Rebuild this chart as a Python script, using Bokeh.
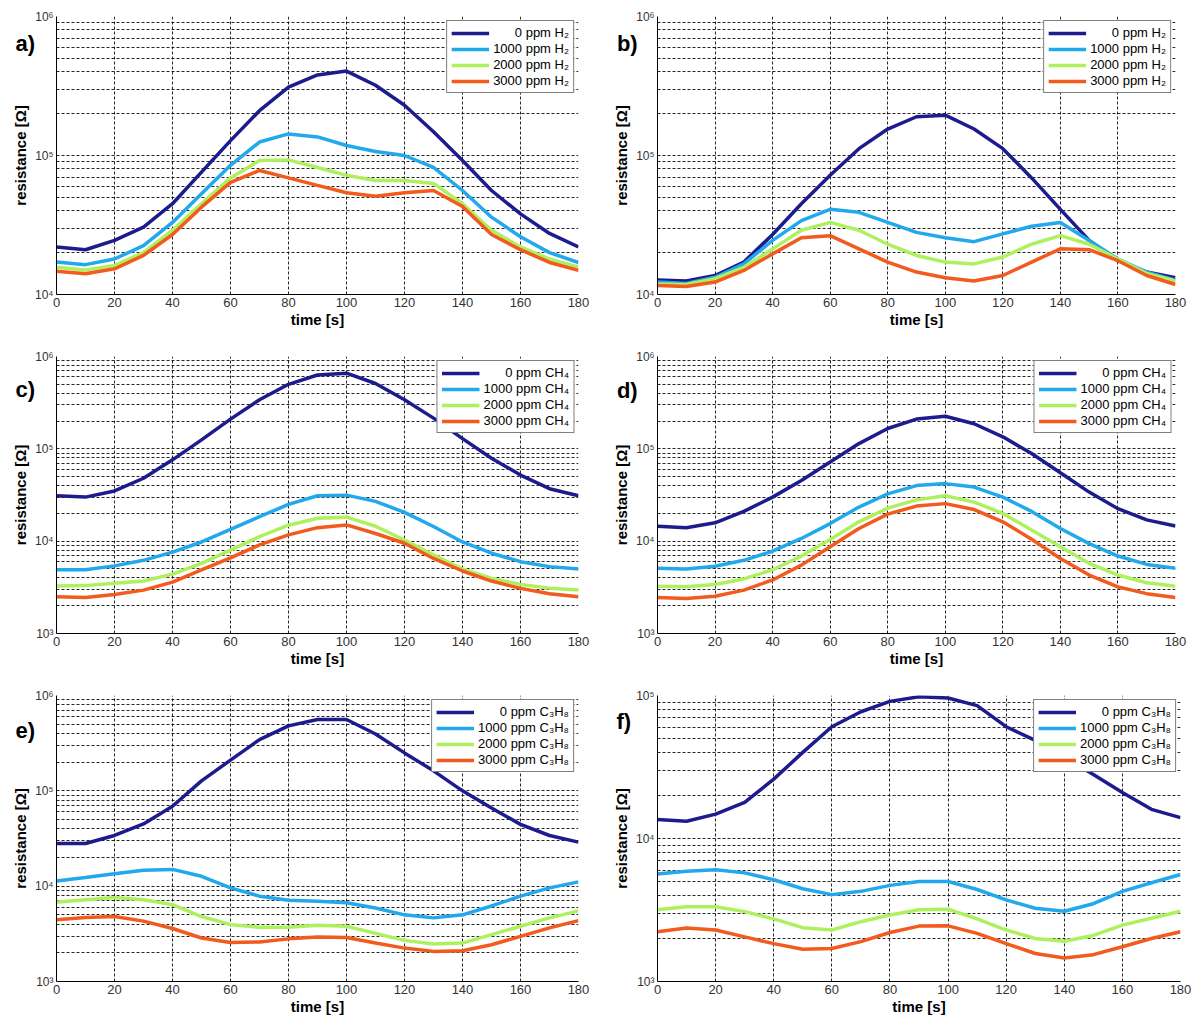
from bokeh.plotting import figure
from bokeh.layouts import column, row
from bokeh.models import (FixedTicker, CustomJSTickFormatter, Legend, LegendItem,
                          Label, Range1d)
from bokeh.embed import file_html
from bokeh.resources import INLINE

# ---------------- data ----------------
TIME = [0, 10, 20, 30, 40, 50, 60, 70, 80, 90, 100, 110, 120, 130, 140, 150, 160, 170, 180]
CONC = ["0", "1000", "2000", "3000"]
GAS = ["H₂", "H₂", "CH₄", "CH₄", "C₃H₈", "C₃H₈"]
TAGS = ["a)", "b)", "c)", "d)", "e)", "f)"]
X_TICKS = [0, 20, 40, 60, 80, 100, 120, 140, 160, 180]
Y_EXP = [(4, 6), (4, 6), (3, 6), (3, 6), (3, 6), (3, 5)]

a_0 = [2.2e4, 2.1e4, 2.45e4, 3.05e4, 4.5e4, 7.6e4, 1.28e5, 2.1e5, 3.1e5, 3.8e5, 4.05e5, 3.2e5, 2.3e5, 1.48e5, 9.2e4, 5.6e4, 3.8e4, 2.75e4, 2.2e4]
a_1000 = [1.71e4, 1.64e4, 1.8e4, 2.25e4, 3.3e4, 5.3e4, 8.5e4, 1.25e5, 1.43e5, 1.36e5, 1.18e5, 1.07e5, 1.0e5, 8.2e4, 5.6e4, 3.6e4, 2.6e4, 2.0e4, 1.7e4]
a_2000 = [1.57e4, 1.5e4, 1.62e4, 2.0e4, 2.9e4, 4.5e4, 6.9e4, 9.2e4, 9.3e4, 8.2e4, 7.2e4, 6.6e4, 6.6e4, 6.3e4, 4.5e4, 2.9e4, 2.2e4, 1.8e4, 1.57e4]
a_3000 = [1.47e4, 1.41e4, 1.53e4, 1.91e4, 2.7e4, 4.25e4, 6.4e4, 7.8e4, 6.9e4, 6.1e4, 5.4e4, 5.1e4, 5.4e4, 5.6e4, 4.3e4, 2.7e4, 2.1e4, 1.7e4, 1.49e4]

b_0 = [1.27e4, 1.25e4, 1.37e4, 1.71e4, 2.7e4, 4.5e4, 7.2e4, 1.12e5, 1.55e5, 1.9e5, 1.95e5, 1.55e5, 1.12e5, 6.9e4, 4.1e4, 2.45e4, 1.75e4, 1.45e4, 1.32e4]
b_1000 = [1.23e4, 1.2e4, 1.33e4, 1.66e4, 2.45e4, 3.4e4, 4.1e4, 3.9e4, 3.3e4, 2.8e4, 2.56e4, 2.4e4, 2.73e4, 3.1e4, 3.3e4, 2.45e4, 1.8e4, 1.45e4, 1.27e4]
b_2000 = [1.19e4, 1.18e4, 1.3e4, 1.57e4, 2.13e4, 2.9e4, 3.3e4, 2.9e4, 2.3e4, 1.91e4, 1.71e4, 1.66e4, 1.86e4, 2.3e4, 2.65e4, 2.3e4, 1.8e4, 1.42e4, 1.25e4]
b_3000 = [1.16e4, 1.14e4, 1.23e4, 1.49e4, 1.96e4, 2.56e4, 2.65e4, 2.13e4, 1.71e4, 1.45e4, 1.32e4, 1.25e4, 1.37e4, 1.71e4, 2.13e4, 2.1e4, 1.75e4, 1.37e4, 1.18e4]

c_0 = [3.1e4, 3.0e4, 3.5e4, 4.8e4, 7.6e4, 1.25e5, 2.1e5, 3.4e5, 5.0e5, 6.3e5, 6.6e5, 5.1e5, 3.4e5, 2.15e5, 1.29e5, 7.9e4, 5.2e4, 3.7e4, 3.1e4]
c_1000 = [4.9e3, 4.9e3, 5.4e3, 6.2e3, 7.6e3, 9.8e3, 1.34e4, 1.84e4, 2.5e4, 3.1e4, 3.15e4, 2.7e4, 2.05e4, 1.44e4, 9.8e3, 7.4e3, 6.0e3, 5.3e3, 5.0e3]
c_2000 = [3.26e3, 3.3e3, 3.5e3, 3.7e3, 4.4e3, 5.75e3, 8.0e3, 1.12e4, 1.49e4, 1.77e4, 1.82e4, 1.45e4, 1.03e4, 7.1e3, 5.0e3, 3.95e3, 3.4e3, 3.1e3, 2.95e3]
c_3000 = [2.5e3, 2.45e3, 2.65e3, 2.95e3, 3.6e3, 4.9e3, 6.6e3, 9.1e3, 1.17e4, 1.4e4, 1.5e4, 1.21e4, 9.5e3, 6.5e3, 4.75e3, 3.7e3, 3.08e3, 2.7e3, 2.5e3]

d_0 = [1.45e4, 1.4e4, 1.58e4, 2.1e4, 3.0e4, 4.55e4, 7.2e4, 1.14e5, 1.66e5, 2.1e5, 2.25e5, 1.87e5, 1.35e5, 8.9e4, 5.5e4, 3.4e4, 2.25e4, 1.7e4, 1.46e4]
d_1000 = [5.1e3, 5.0e3, 5.35e3, 6.2e3, 7.8e3, 1.07e4, 1.55e4, 2.34e4, 3.25e4, 4.0e4, 4.2e4, 3.85e4, 3.0e4, 2.1e4, 1.37e4, 9.4e3, 6.9e3, 5.6e3, 5.1e3]
d_2000 = [3.25e3, 3.2e3, 3.4e3, 3.9e3, 4.9e3, 6.9e3, 1.04e4, 1.62e4, 2.28e4, 2.8e4, 3.1e4, 2.65e4, 2.0e4, 1.32e4, 8.7e3, 5.75e3, 4.3e3, 3.55e3, 3.25e3]
d_3000 = [2.45e3, 2.4e3, 2.53e3, 2.95e3, 3.8e3, 5.5e3, 8.7e3, 1.37e4, 1.96e4, 2.4e4, 2.55e4, 2.2e4, 1.62e4, 1.05e4, 6.5e3, 4.3e3, 3.2e3, 2.7e3, 2.45e3]

e_0 = [2.8e4, 2.8e4, 3.4e4, 4.5e4, 6.9e4, 1.27e5, 2.1e5, 3.45e5, 4.8e5, 5.6e5, 5.6e5, 3.95e5, 2.5e5, 1.62e5, 1.0e5, 6.6e4, 4.45e4, 3.4e4, 2.9e4]
e_1000 = [1.13e4, 1.23e4, 1.35e4, 1.47e4, 1.5e4, 1.27e4, 9.6e3, 7.85e3, 7.1e3, 6.95e3, 6.7e3, 5.9e3, 5.0e3, 4.65e3, 5.0e3, 6.2e3, 7.85e3, 9.6e3, 1.11e4]
e_2000 = [6.8e3, 7.2e3, 7.6e3, 7.2e3, 6.4e3, 4.8e3, 3.95e3, 3.7e3, 3.7e3, 3.9e3, 3.8e3, 3.2e3, 2.7e3, 2.47e3, 2.53e3, 3.1e3, 3.8e3, 4.65e3, 5.5e3]
e_3000 = [4.45e3, 4.7e3, 4.8e3, 4.3e3, 3.6e3, 2.86e3, 2.57e3, 2.6e3, 2.8e3, 2.93e3, 2.9e3, 2.53e3, 2.24e3, 2.07e3, 2.1e3, 2.43e3, 2.97e3, 3.65e3, 4.35e3]

f_0 = [1.36e4, 1.32e4, 1.48e4, 1.79e4, 2.6e4, 4.0e4, 6.05e4, 7.7e4, 9.1e4, 9.8e4, 9.6e4, 8.5e4, 6.05e4, 4.85e4, 3.7e4, 2.8e4, 2.1e4, 1.6e4, 1.4e4]
f_1000 = [5.65e3, 5.9e3, 6.05e3, 5.75e3, 5.15e3, 4.45e3, 4.05e3, 4.27e3, 4.7e3, 5.0e3, 5.0e3, 4.4e3, 3.72e3, 3.25e3, 3.1e3, 3.5e3, 4.27e3, 4.9e3, 5.6e3]
f_2000 = [3.17e3, 3.33e3, 3.33e3, 3.08e3, 2.74e3, 2.38e3, 2.29e3, 2.62e3, 2.92e3, 3.17e3, 3.2e3, 2.74e3, 2.29e3, 2.0e3, 1.91e3, 2.1e3, 2.48e3, 2.77e3, 3.1e3]
f_3000 = [2.23e3, 2.37e3, 2.29e3, 2.05e3, 1.84e3, 1.68e3, 1.7e3, 1.9e3, 2.2e3, 2.44e3, 2.45e3, 2.17e3, 1.84e3, 1.57e3, 1.46e3, 1.54e3, 1.75e3, 2.0e3, 2.23e3]

PANELS = [
    [a_0, a_1000, a_2000, a_3000],
    [b_0, b_1000, b_2000, b_3000],
    [c_0, c_1000, c_2000, c_3000],
    [d_0, d_1000, d_2000, d_3000],
    [e_0, e_1000, e_2000, e_3000],
    [f_0, f_1000, f_2000, f_3000],
]

# ---------------- styling ----------------
COLORS = ["#1c1c8e", "#22a8ec", "#aef05e", "#f25a1e"]
FONT = "Liberation Sans"
# (width, height, border_left, border_right, border_top, border_bottom, tag_y_from_frame_top)
GEOM = [
    (598, 342, 56, 19, 16, 48, 27),
    (598, 342, 59, 16, 16, 48, 27),
    (598, 339, 56, 19, 14, 48, 33),
    (598, 339, 59, 16, 14, 48, 34),
    (598, 339, 56, 19, 14, 39, 35),
    (598, 339, 59, 16, 14, 39, 26),
]

SUP_JS = """
const sup = {"0":"\u2070","1":"\u00b9","2":"\u00b2","3":"\u00b3","4":"\u2074",
             "5":"\u2075","6":"\u2076","7":"\u2077","8":"\u2078","9":"\u2079"};
const e = Math.round(Math.log10(tick));
return "10" + String(e).split("").map(c => sup[c]).join("");
"""


def make_panel(i):
    w, h, bl, br, bt, bb, tag_y = GEOM[i]
    lo, hi = Y_EXP[i]
    p = figure(width=w, height=h, y_axis_type="log",
               x_range=Range1d(0, 180), y_range=Range1d(10 ** lo, 10 ** hi),
               output_backend="svg", toolbar_location=None,
               min_border_left=bl, min_border_right=br,
               min_border_top=bt, min_border_bottom=bb)
    p.outline_line_color = None
    p.background_fill_color = "white"
    p.border_fill_color = "white"

    major = [10 ** e for e in range(lo, hi + 1)]
    minor = [k * 10 ** e for e in range(lo, hi) for k in range(2, 10)]
    p.yaxis.ticker = FixedTicker(ticks=major, minor_ticks=minor)
    p.yaxis.formatter = CustomJSTickFormatter(code=SUP_JS)
    p.xaxis.ticker = FixedTicker(ticks=X_TICKS)

    for ax in (p.xaxis, p.yaxis):
        ax.axis_line_color = "black"
        ax.axis_line_width = 1
        ax.major_tick_in = 0
        ax.major_tick_out = 0
        ax.minor_tick_in = 0
        ax.minor_tick_out = 0
        ax.major_label_text_font = FONT
        ax.major_label_text_color = "#333333"
        ax.axis_label_text_font = FONT
        ax.axis_label_text_font_size = "15px"
        ax.axis_label_text_font_style = "bold"
        ax.axis_label_text_color = "black"
    p.xaxis.major_label_text_font_size = "13px"
    p.yaxis.major_label_text_font_size = "12px"
    p.xaxis.axis_label = "time [s]"
    p.yaxis.axis_label = "resistance [Ω]"
    p.xaxis.major_label_standoff = 3
    p.xaxis.axis_label_standoff = 1
    p.yaxis.major_label_standoff = 3
    p.yaxis.axis_label_standoff = 3

    for g in (p.xgrid, p.ygrid):
        g.grid_line_color = "black"
        g.grid_line_dash = "3 2"
        g.grid_line_width = 1
        g.grid_line_alpha = 0.85
    p.ygrid.minor_grid_line_color = "black"
    p.ygrid.minor_grid_line_dash = "3 2"
    p.ygrid.minor_grid_line_alpha = 0.85

    items = []
    for vals, conc, col in zip(PANELS[i], CONC, COLORS):
        r = p.line(TIME, vals, line_color=col, line_width=3.5)
        pad = "\u2007" * (4 - len(conc))
        items.append(LegendItem(label=pad + conc + " ppm " + GAS[i], renderers=[r]))

    leg = Legend(items=items, location="top_right")
    leg.border_line_color = "black"
    leg.border_line_width = 1
    leg.background_fill_color = "white"
    leg.background_fill_alpha = 1
    leg.label_text_font = FONT
    leg.label_text_font_size = "13px"
    leg.label_text_color = "black"
    leg.glyph_width = 38
    leg.glyph_height = 14
    leg.label_height = 14
    leg.label_standoff = 4
    leg.spacing = 1
    leg.padding = 4
    leg.margin = 4
    p.add_layout(leg)

    # panel tag, drawn left of the frame (position derived from frame geometry);
    # hosted in the (otherwise empty) right side panel so it is not clipped
    frame_w = w - bl - br
    frame_h = h - bt - bb
    tag_x = -41 * 180 / frame_w
    tag_yv = 10 ** (hi - tag_y * (hi - lo) / frame_h)
    p.add_layout(Label(x=tag_x, y=tag_yv,
                       text=TAGS[i], text_font=FONT, text_font_size="22px",
                       text_font_style="bold", text_color="black",
                       text_baseline="middle", text_align="left"), "right")
    return p


figs = [make_panel(i) for i in range(6)]
layout = column(row(figs[0], figs[1]), row(figs[2], figs[3]), row(figs[4], figs[5]))

open("out.html", "w").write(file_html(layout, INLINE))
